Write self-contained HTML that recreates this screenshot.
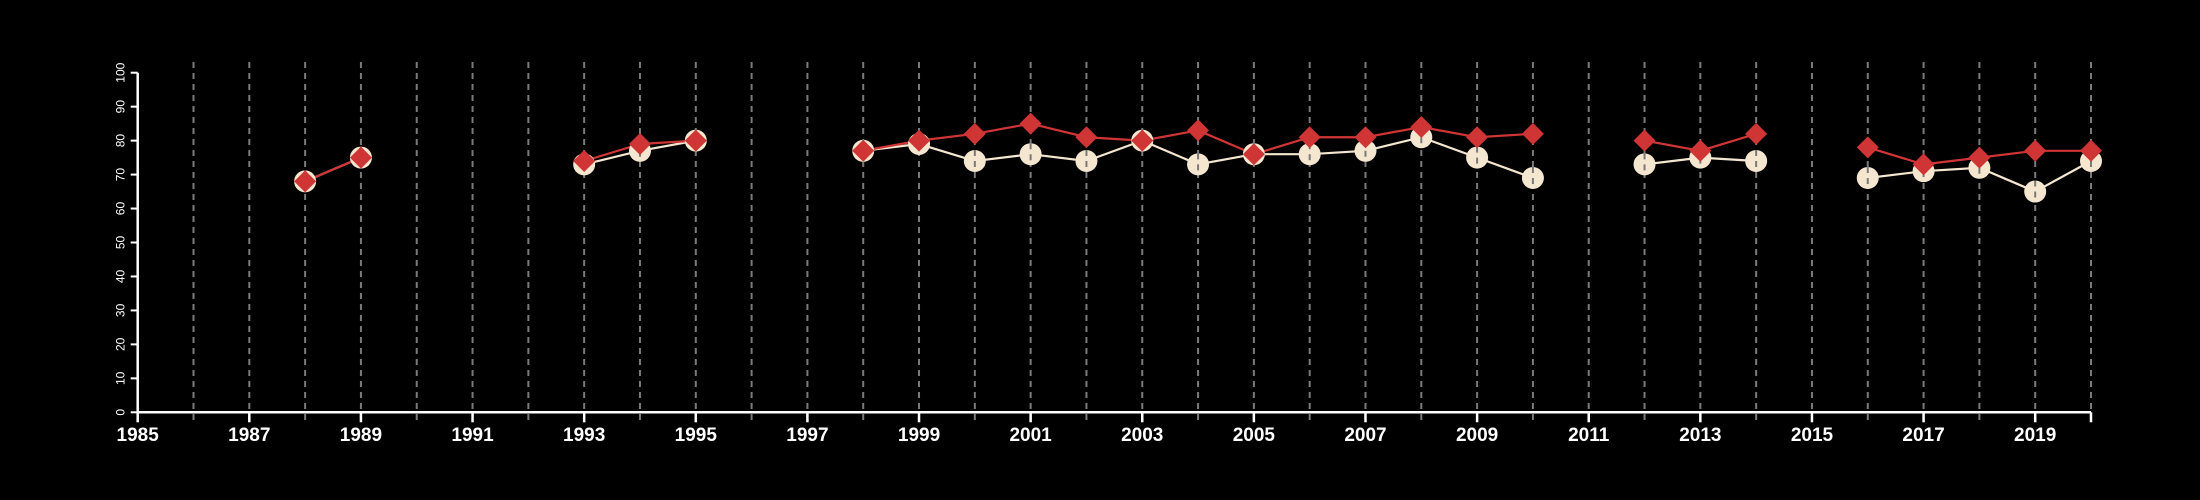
<!DOCTYPE html>
<html><head><meta charset="utf-8"><style>
html,body{margin:0;padding:0;background:#000;}
svg{display:block;font-family:"Liberation Sans",sans-serif;}
</style></head><body>
<svg id="chart" width="2200" height="500" viewBox="0 0 2200 500">
<g id="grid"></g>
<g id="axes"></g>
<g id="series"></g>
</svg>
<script>
const years = [1988,1989,1990,1991,1992,1993,1994,1995,1996,1997,1998,1999,2000,2001,2002,2003,2004,2005,2006,2007,2008,2009,2010,2011,2012,2013,2014,2015,2016,2017,2018,2019,2020];
const seriesA = [68,75,null,null,null,73,77,80,null,null,77,79,74,76,74,80,73,76,76,77,81,75,69,null,73,75,74,null,69,71,72,65,74];
const seriesB = [68,75,null,null,null,74,79,80,null,null,77,80,82,85,81,80,83,76,81,81,84,81,82,null,80,77,82,null,78,73,75,77,77];
const yTicks = [0,10,20,30,40,50,60,70,80,90,100];
const xLabels = [1985,1987,1989,1991,1993,1995,1997,1999,2001,2003,2005,2007,2009,2011,2013,2015,2017,2019];

const NS="http://www.w3.org/2000/svg";
const X0=137.7, X1=2091, Y0=412.3, Y1=72.7;
const xs=y=>X0+(y-1985)*(X1-X0)/35;
const ys=v=>Y0-(v-0)*(Y0-Y1)/100;
function mk(tag,attrs,parent){const e=document.createElementNS(NS,tag);for(const k in attrs)e.setAttribute(k,attrs[k]);parent.appendChild(e);return e;}
const grid=document.getElementById('grid'), axes=document.getElementById('axes'), ser=document.getElementById('series');

for(let y=1986;y<=2020;y++){
  const l=mk('line',{x1:xs(y),x2:xs(y),y1:62,y2:424,stroke:'#7a7a7a','stroke-width':2,'stroke-dasharray':'6,5'},grid);
  
  
}
const xa=mk('line',{x1:X0,x2:X1,y1:Y0,y2:Y0,stroke:'#fff','stroke-width':2.5},axes);


for(let y=1985;y<=2020;y++){
  if(y%2===1||y===2020){const t=mk('line',{x1:xs(y),x2:xs(y),y1:Y0,y2:Y0+10,stroke:'#fff','stroke-width':2.5},axes);
  
  }
}
xLabels.forEach(y=>{
  const t=mk('text',{x:xs(y),y:441,fill:'#fff','font-size':19,'font-weight':'bold','text-anchor':'middle'},axes);
  t.textContent=y;
  
  
});
const ya=mk('line',{x1:X0,x2:X0,y1:Y0,y2:Y1,stroke:'#fff','stroke-width':2.5},axes);


yTicks.forEach(v=>{
  const t=mk('line',{x1:X0-7,x2:X0,y1:ys(v),y2:ys(v),stroke:'#fff','stroke-width':2},axes);
  
  
  const tx=mk('text',{x:0,y:0,fill:'#fff','font-size':12,'text-anchor':'middle',transform:`translate(${X0-13},${ys(v)}) rotate(-90)`},axes);
  tx.textContent=v;
  
  
});

function drawLine(vals,color,name){
  let seg=[];
  const flush=()=>{if(seg.length>1){const p=mk('polyline',{points:seg.join(' '),fill:'none',stroke:color,'stroke-width':2.2},ser);
    
    }seg=[];};
  vals.forEach((v,i)=>{if(v==null)flush();else seg.push(xs(years[i])+','+ys(v));});
  flush();
}
drawLine(seriesA,'#f5e6d0','series-a');
drawLine(seriesB,'#d03535','series-b');
seriesA.forEach((v,i)=>{if(v==null)return;
  const c=mk('circle',{cx:xs(years[i]),cy:ys(v),r:11,fill:'#f5e6d0'},ser);
  
  
  mk('line',{x1:xs(years[i]),x2:xs(years[i]),y1:ys(v)-11,y2:ys(v)+11,stroke:'#7a7a7a','stroke-width':2,'stroke-dasharray':'6,5'},ser);
});
seriesB.forEach((v,i)=>{if(v==null)return;
  const x=xs(years[i]),y=ys(v),r=11;
  const d=mk('polygon',{points:`${x},${y-r} ${x+r},${y} ${x},${y+r} ${x-r},${y}`,fill:'#d03535'},ser);
  
  
});
</script>
</body></html>
